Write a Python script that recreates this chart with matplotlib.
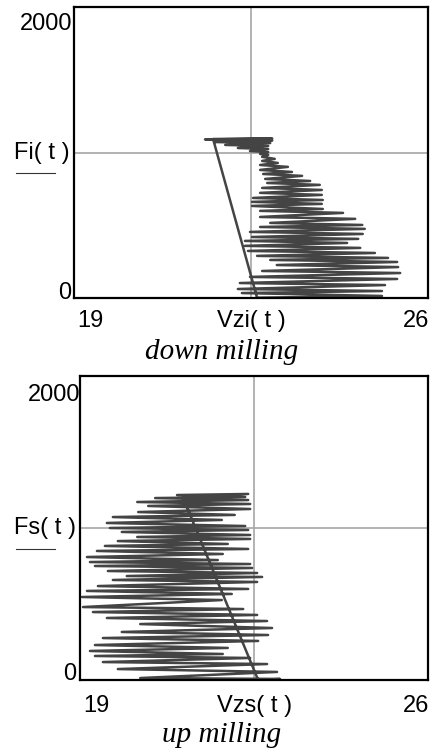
import numpy as np
import matplotlib
matplotlib.use("Agg")
import matplotlib.pyplot as plt
from matplotlib.lines import Line2D

# down milling : Fi(t) against Vzi(t)
vzi = [22.62, 25.09, 22.32, 25.09, 22.24, 25.15, 22.28, 25.39, 22.48, 25.45,
       22.72, 25.41, 23.01, 25.39, 22.88, 25.21, 22.62, 24.95, 22.44, 24.66,
       22.38, 24.40, 22.38, 24.62, 22.52, 24.71, 22.48, 24.75, 22.68, 24.70,
       22.88, 24.56, 22.68, 24.32, 22.68, 23.92, 22.52, 23.90, 22.52, 23.92,
       22.54, 23.90, 22.68, 23.90, 22.72, 23.86, 22.82, 23.67, 22.78, 23.51,
       22.74, 23.31, 22.68, 23.23, 22.68, 23.03, 22.72, 22.97, 22.72, 22.84,
       22.68, 22.84, 22.48, 22.84, 22.24, 22.84, 21.99, 22.88, 21.79, 22.92,
       21.59, 22.92, 21.75, 22.62]
fi = [0, 12, 32, 46, 60, 87, 101, 129, 143, 170,
      184, 211, 225, 246, 260, 274, 288, 308, 322, 343,
      357, 377, 391, 405, 418, 439, 453, 474, 487, 501,
      515, 543, 556, 584, 598, 611, 632, 646, 660, 673,
      687, 708, 722, 742, 756, 777, 790, 804, 818, 839,
      852, 866, 880, 901, 914, 928, 942, 956, 970, 983,
      990, 1003, 1010, 1024, 1031, 1045, 1052, 1065, 1072, 1083,
      1090, 1096, 1093, 0]

# up milling : Fs(t) against Vzs(t)
vzs = [22.58, 23.02, 20.21, 22.96, 19.76, 22.76, 19.46, 22.42, 19.30, 21.87,
       19.20, 21.97, 19.30, 22.58, 19.46, 22.78, 19.84, 22.86, 20.21, 22.76,
       19.54, 22.56, 19.26, 22.28, 19.06, 21.85, 19.04, 22.05, 19.14, 22.38,
       19.36, 22.56, 19.66, 22.66, 19.94, 22.56, 19.56, 22.46, 19.30, 22.42,
       19.20, 21.77, 19.14, 21.87, 19.34, 22.38, 19.50, 21.97, 19.76, 22.42,
       20.15, 22.42, 19.84, 22.38, 19.60, 22.32, 19.54, 21.85, 19.66, 22.11,
       20.17, 22.42, 20.37, 22.42, 20.15, 22.38, 20.51, 22.32, 20.95, 22.38,
       21.07, 22.58]
fs = [0, 7, 13, 53, 72, 105, 118, 145, 158, 171,
      191, 211, 230, 257, 276, 296, 316, 342, 368, 388,
      408, 428, 447, 467, 480, 526, 546, 566, 586, 599,
      618, 645, 658, 678, 684, 704, 717, 737, 750, 763,
      776, 789, 809, 829, 849, 862, 882, 895, 914, 928,
      941, 954, 974, 987, 1000, 1013, 1033, 1053, 1072, 1086,
      1105, 1125, 1145, 1158, 1171, 1184, 1197, 1204, 1217, 1224,
      1200, 0]

x_lim = [19, 26]
y_lim = [0, 2000]
x_names = ["Vzi( t )", "Vzs( t )"]
y_names = ["Fi( t )", "Fs( t )"]
titles = ["down milling", "up milling"]

plt.rcParams['font.family'] = ['Liberation Sans', 'DejaVu Sans']

W, H = 435, 751
fig = plt.figure(figsize=(W / 100, H / 100), dpi=100)
ax1 = fig.add_axes([74 / W, 1 - 297.7 / H, 354 / W, 290.4 / H])
ax2 = fig.add_axes([80 / W, 1 - 680 / H, 348.3 / W, 304 / H])

line_col = '#444444'
grid_col = '#a6a6a6'
fsz = 17
px = 0.72  # one pixel in points at 100 dpi

# per panel text offsets, in pixels
top_lab = [(-2, -23), (0, -25)]     # "2000"
bot_lab = [(-3, -1), (-4, 0)]       # "0"
x_base = [-29, -32]                 # baseline of the x labels
title_y = [352, 735]
under_y = [173, 549]


def put(ax, s, xy, off, ha, va):
    ax.annotate(s, xy, xycoords='axes fraction',
                xytext=(off[0] * px, off[1] * px), textcoords='offset points',
                ha=ha, va=va, fontsize=fsz)


for i, (ax, x, y) in enumerate(zip([ax1, ax2], [vzi, vzs], [fi, fs])):
    ax.plot(x, y, color=line_col, lw=1.8, solid_joinstyle='round')
    ax.set_xlim(x_lim)
    ax.set_ylim(y_lim)
    ax.axvline(np.mean(x_lim), color=grid_col, lw=1.2, zorder=0)
    ax.axhline(np.mean(y_lim), color=grid_col, lw=1.2, zorder=0)
    for s in ax.spines.values():
        s.set_linewidth(1.6)
        s.set_color('black')
    ax.set_xticks([])
    ax.set_yticks([])

    put(ax, str(y_lim[1]), (0, 1), top_lab[i], 'right', 'baseline')
    put(ax, str(y_lim[0]), (0, 0), bot_lab[i], 'right', 'baseline')
    put(ax, str(x_lim[0]), (0, 0), (3, x_base[i]), 'left', 'baseline')
    put(ax, str(x_lim[1]), (1, 0), (1, x_base[i]), 'right', 'baseline')
    put(ax, x_names[i], (0.5, 0), (0, x_base[i]), 'center', 'baseline')
    put(ax, y_names[i], (0, 0.5), (-4, 0), 'right', 'center')

    fig.add_artist(Line2D([16 / W, 55 / W], [1 - under_y[i] / H] * 2,
                          color='#333333', lw=0.8))
    fig.text(222 / W, 1 - title_y[i] / H, titles[i], ha='center', va='center',
             fontsize=21, style='italic', family='Liberation Serif')

fig.savefig("out.png", dpi=100)
